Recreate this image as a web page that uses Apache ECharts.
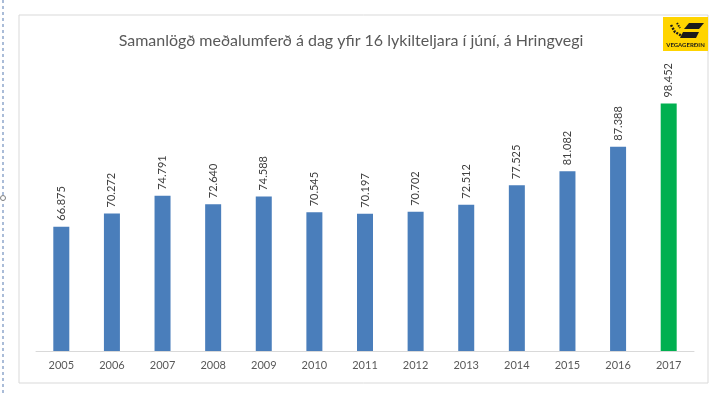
<!DOCTYPE html>
<html>
<head>
<meta charset="utf-8">
<script src="https://cdn.jsdelivr.net/npm/echarts@6/dist/echarts.min.js"></script>
<style>
html,body{margin:0;padding:0;background:#fff;}
#c{width:713px;height:393px;}
</style>
</head>
<body>
<div id="c"></div>
<script>
const years = ['2005','2006','2007','2008','2009','2010','2011','2012','2013','2014','2015','2016','2017'];
const values = [66.875,70.272,74.791,72.640,74.588,70.545,70.197,70.702,72.512,77.525,81.082,87.388,98.452];
const labels = ['66.875','70.272','74.791','72.640','74.588','70.545','70.197','70.702','72.512','77.525','81.082','87.388','98.452'];
const titleText = 'Samanlögð meðalumferð á dag yfir 16 lykilteljara í júní, á Hringvegi';

const chart = echarts.init(document.getElementById('c'));
const barData = values.map((v,i)=>({
  value: v,
  itemStyle: {color: i === values.length-1 ? '#00b050' : '#4a7ebb'}
}));
chart.setOption({
  animation: false,
  title: {
    text: titleText,
    left: 346, top: 28, textAlign: 'center',
    textStyle: {fontFamily: 'Lato', fontSize: 16, fontWeight: 'normal', color: '#595959'}
  },
  grid: {left: 36, right: 19, top: 97.5, bottom: 42, containLabel: false},
  xAxis: {
    type: 'category', data: years,
    axisLine: {lineStyle: {color: '#d9d9d9'}},
    axisTick: {show: false},
    axisLabel: {fontFamily: 'Lato', fontSize: 11, color: '#595959', margin: 9}
  },
  yAxis: {
    type: 'value', min: 35, max: 100,
    show: false, splitLine: {show: false}
  },
  series: [{
    type: 'bar', data: barData, barWidth: 16,
    label: {
      show: true, position: 'top', rotate: 90, distance: 6,
      align: 'left', verticalAlign: 'middle',
      fontFamily: 'Lato', fontSize: 11, color: '#404040',
      formatter: p => labels[p.dataIndex]
    }
  }],
  graphic: [
    {type: 'rect', shape: {x: 19, y: 15, width: 689, height: 368}, style: {fill: 'none', stroke: '#d9d9d9', lineWidth: 1}, z: -1},
    {type: 'line', shape: {x1: 3, y1: 0, x2: 3, y2: 393}, style: {stroke: '#8ea6cc', lineWidth: 1.5, lineDash: [3, 3]}},
    {type: 'circle', shape: {cx: 3, cy: 198, r: 2.5}, style: {fill: '#fff', stroke: '#7f7f7f', lineWidth: 1}},
    {type: 'group', left: 663, top: 17, children: [
      {type: 'rect', shape: {x: 0, y: 0, width: 45, height: 34}, style: {fill: '#ffd400'}},
      {type: 'polygon', shape: {points: [[26,6],[41,6],[36,12],[21,12]]}, style: {fill: '#1a1a1a'}},
      {type: 'polygon', shape: {points: [[20,15],[36,15],[33,21],[17,21]]}, style: {fill: '#1a1a1a'}},
      {type: 'polyline', shape: {points: [[8,8],[12,15],[19,19]]}, style: {stroke: '#1a1a1a', lineWidth: 2.5, lineDash: [2,1.2], fill: 'none'}},
      {type: 'polyline', shape: {points: [[14,6],[17,11]]}, style: {stroke: '#1a1a1a', lineWidth: 2, lineDash: [1.5,1], fill: 'none'}},
      {type: 'text', style: {x: 22.5, y: 28, text: 'VEGAGERÐIN', fill: '#1a1a1a', font: 'bold 6px Lato', align: 'center', verticalAlign: 'middle'}}
    ]}
  ]
});
</script>
</body>
</html>
